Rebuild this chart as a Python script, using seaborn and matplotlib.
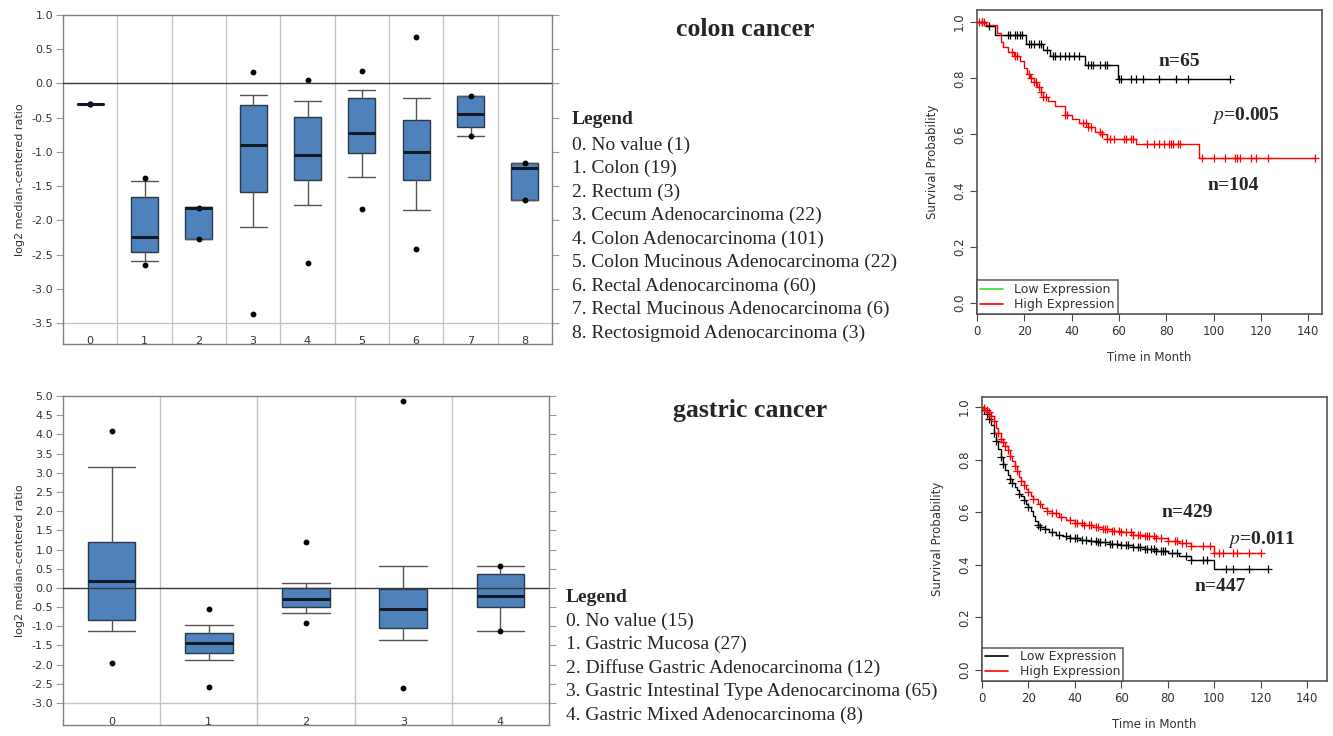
import numpy as np
import matplotlib.pyplot as plt
import seaborn as sns
from matplotlib.lines import Line2D

sns.set_theme(style="white")
plt.rcParams['font.family'] = ['DejaVu Sans']
plt.rcParams['axes.unicode_minus'] = False
plt.rcParams['mathtext.fontset'] = 'stix'

# ---- colon cancer box plot (Oncomine style summary stats) ----
colon_groups = ["0", "1", "2", "3", "4", "5", "6", "7", "8"]
colon_min = [-0.30, -2.66, -2.27, -3.37, -2.63, -1.83, -2.42, -0.77, -1.71]
colon_whislo = [-0.30, -2.60, -2.27, -2.10, -1.77, -1.37, -1.85, -0.77, -1.71]
colon_q1 = [-0.30, -2.47, -2.27, -1.58, -1.41, -1.02, -1.41, -0.63, -1.71]
colon_med = [-0.30, -2.24, -1.82, -0.90, -1.04, -0.73, -1.00, -0.44, -1.24]
colon_q3 = [-0.30, -1.66, -1.81, -0.32, -0.49, -0.21, -0.54, -0.18, -1.16]
colon_whishi = [-0.30, -1.43, -1.81, -0.17, -0.26, -0.10, -0.22, -0.18, -1.16]
colon_max = [-0.30, -1.38, -1.82, 0.16, 0.05, 0.18, 0.68, -0.18, -1.16]
colon_legend = ["0. No value (1)", "1. Colon (19)", "2. Rectum (3)",
                "3. Cecum Adenocarcinoma (22)", "4. Colon Adenocarcinoma (101)",
                "5. Colon Mucinous Adenocarcinoma (22)", "6. Rectal Adenocarcinoma (60)",
                "7. Rectal Mucinous Adenocarcinoma (6)", "8. Rectosigmoid Adenocarcinoma (3)"]

# ---- gastric cancer box plot ----
gastric_groups = ["0", "1", "2", "3", "4"]
gastric_min = [-1.95, -2.58, -0.91, -2.61, -1.12]
gastric_whislo = [-1.12, -1.87, -0.65, -1.35, -1.12]
gastric_q1 = [-0.84, -1.69, -0.49, -1.04, -0.49]
gastric_med = [0.17, -1.44, -0.29, -0.54, -0.21]
gastric_q3 = [1.19, -1.18, 0.00, -0.03, 0.35]
gastric_whishi = [3.16, -0.98, 0.14, 0.58, 0.58]
gastric_max = [4.08, -0.55, 1.19, 4.88, 0.58]
gastric_legend = ["0. No value (15)", "1. Gastric Mucosa (27)",
                  "2. Diffuse Gastric Adenocarcinoma (12)",
                  "3. Gastric Intestinal Type Adenocarcinoma (65)",
                  "4. Gastric Mixed Adenocarcinoma (8)"]

# ---- colon KM ----
colon_low_t = [0, 4, 7.5, 20.5, 28, 31, 45.5, 59.5]
colon_low_s = [1.0, 0.985, 0.955, 0.923, 0.90, 0.878, 0.849, 0.796]
colon_low_end = 107
colon_low_cens = [2, 5, 13, 14, 16, 17, 18, 19, 22, 23, 24, 26, 27, 29.5, 32, 33, 35, 37,
                  39, 41, 43, 47, 48, 49, 52, 54, 55, 60, 61, 65, 67, 70, 77, 84, 89, 107]
colon_high_t = [0, 4, 8.5, 10, 11, 13, 15.5, 18, 20, 21, 22.5, 24, 25.5, 27, 28, 30, 33,
                37, 40, 43, 47, 50, 53, 55, 67, 94]
colon_high_s = [1.0, 0.99, 0.96, 0.93, 0.91, 0.895, 0.88, 0.86, 0.835, 0.815, 0.80, 0.785,
                0.77, 0.75, 0.735, 0.72, 0.70, 0.67, 0.655, 0.64, 0.625, 0.61, 0.60, 0.585,
                0.565, 0.515]
colon_high_end = 143
colon_high_cens = [1, 2, 3, 15, 16, 17, 22, 23, 24, 25, 26, 27, 28, 29, 37, 38, 45, 46, 47,
                   48, 52, 53, 55, 56, 58, 62, 63, 65, 66, 72, 75, 77, 79, 81, 82, 83, 85,
                   86, 95, 100, 105, 109, 110, 111, 116, 118, 123, 143]

# ---- gastric KM ----
gastric_low_t = [0, 1, 2, 3, 4, 5, 6, 7, 8, 9, 10, 11, 12, 13, 14, 15, 16, 17, 18, 19, 20,
                 21, 22, 23, 24, 25, 27, 29, 32, 35, 38, 42, 46, 50, 55, 60, 65, 70, 75, 80,
                 85, 90, 100]
gastric_low_s = [1.0, 0.99, 0.975, 0.955, 0.93, 0.90, 0.87, 0.84, 0.81, 0.785, 0.76, 0.74,
                 0.725, 0.71, 0.695, 0.683, 0.67, 0.66, 0.645, 0.63, 0.62, 0.605, 0.585,
                 0.565, 0.553, 0.545, 0.535, 0.525, 0.515, 0.508, 0.502, 0.496, 0.49, 0.485,
                 0.48, 0.474, 0.468, 0.46, 0.452, 0.444, 0.432, 0.42, 0.385]
gastric_low_end = 123
gastric_low_cens = [1, 2, 3, 5, 6, 8, 9, 12, 13, 16, 18, 20, 24, 25, 27, 30, 33, 36, 38, 40,
                    41, 43, 45, 47, 49, 50, 51, 53, 55, 56, 58, 60, 62, 63, 65, 67, 68, 70,
                    71, 73, 74, 75, 77, 78, 79, 82, 84, 88, 90, 95, 97, 105, 108, 115, 123]
gastric_high_t = [0, 1, 2, 3, 4, 5, 6, 7, 8, 9, 10, 11, 12, 13, 14, 15, 16, 17, 18, 19, 20,
                  21, 22, 24, 26, 28, 30, 33, 36, 40, 44, 48, 52, 56, 60, 65, 70, 75, 80, 85,
                  90, 100]
gastric_high_s = [1.0, 0.995, 0.99, 0.98, 0.965, 0.945, 0.92, 0.90, 0.88, 0.865, 0.85, 0.835,
                  0.815, 0.795, 0.775, 0.755, 0.735, 0.72, 0.705, 0.69, 0.675, 0.662, 0.65,
                  0.632, 0.615, 0.605, 0.595, 0.582, 0.57, 0.56, 0.55, 0.543, 0.537, 0.53,
                  0.523, 0.515, 0.508, 0.502, 0.49, 0.483, 0.472, 0.443]
gastric_high_end = 120
gastric_high_cens = [1, 2, 3, 4, 5, 7, 8, 9, 10, 11, 12, 14, 15, 17, 18, 20, 22, 25, 28, 30,
                     32, 34, 38, 40, 41, 43, 44, 46, 47, 49, 50, 52, 53, 54, 56, 57, 59, 60,
                     62, 64, 65, 67, 68, 70, 71, 72, 74, 75, 77, 80, 83, 84, 86, 88, 90, 95,
                     98, 100, 102, 104, 108, 110, 115, 120]

BOX_BLUE = "#4f82bb"
SERIF = ['Liberation Serif', 'DejaVu Serif']


def draw_boxes(ax, groups, lo_pt, wlo, q1, med, q3, whi, hi_pt, width, ylim, band_y, yticks):
    stats = []
    for i in range(len(groups)):
        stats.append(dict(whislo=wlo[i], q1=q1[i], med=med[i], q3=q3[i], whishi=whi[i],
                          fliers=[lo_pt[i], hi_pt[i]]))
    ax.bxp(stats, positions=list(range(len(groups))), widths=width, capwidths=width,
           patch_artist=True,
           boxprops=dict(facecolor=BOX_BLUE, edgecolor="#2b3a4a", linewidth=1),
           medianprops=dict(color="#111a26", linewidth=2.2),
           whiskerprops=dict(color="#555555", linewidth=1),
           capprops=dict(color="#555555", linewidth=1),
           flierprops=dict(marker="o", markerfacecolor="black", markeredgecolor="black",
                           markersize=3.2))
    for i in range(len(groups) - 1):
        ax.axvline(i + 0.5, color="#c4c4c4", lw=1, zorder=0)
    ax.axhline(band_y, color="#c4c4c4", lw=1, zorder=0)
    ax.axhline(0, color="#3a3a3a", lw=1, zorder=5)
    ax.set_xlim(-0.5, len(groups) - 0.5)
    ax.set_ylim(*ylim)
    ax.set_yticks(yticks)
    ax.set_yticklabels([f"{v:.1f}" for v in yticks])
    ax.set_xticks(range(len(groups)))
    ax.set_xticklabels(groups)
    ax.tick_params(axis="y", left=True, right=True, direction="out", length=5, width=0.8,
                   color="#999999", labelsize=8, labelcolor="#333333", pad=2)
    ax.tick_params(axis="x", bottom=False, pad=-12, labelsize=8, labelcolor="#333333")
    for sp in ax.spines.values():
        sp.set_color("#808080")
        sp.set_linewidth(1)
    ax.set_ylabel("log2 median-centered ratio", fontsize=8, color="#333333", labelpad=5)


def step_value(t, s, x):
    idx = np.searchsorted(t, x, side="right") - 1
    return np.array(s)[idx]


def km_curve(ax, t, s, end, cens, color):
    tt = list(t) + [end]
    ss = list(s) + [s[-1]]
    sns.lineplot(x=tt, y=ss, ax=ax, color=color, drawstyle="steps-post", estimator=None,
                 sort=False, linewidth=1)
    sns.scatterplot(x=cens, y=step_value(t, s, cens), ax=ax, marker="+", s=36,
                    color=color, linewidth=0.9, zorder=3)


def km_axes(ax, xlim, ylim, low_color):
    ax.set_xlim(*xlim)
    ax.set_ylim(*ylim)
    ax.set_xticks(range(0, 141, 20))
    ax.set_yticks([0.0, 0.2, 0.4, 0.6, 0.8, 1.0])
    ax.set_yticklabels(["0.0", "0.2", "0.4", "0.6", "0.8", "1.0"], rotation=90, va="center")
    ax.tick_params(direction="out", length=5, width=0.8, color="#444444", labelsize=8.5,
                   labelcolor="#333333", left=True, bottom=True, pad=3)
    for sp in ax.spines.values():
        sp.set_color("#555555")
        sp.set_linewidth(1.2)
    ax.set_xlabel("Time in Month", fontsize=8.5, color="#333333", labelpad=9)
    ax.set_ylabel("Survival Probability", fontsize=8.5, color="#333333", labelpad=10)
    handles = [Line2D([], [], color=low_color, lw=1.2, label="Low Expression"),
               Line2D([], [], color="red", lw=1.2, label="High Expression")]
    leg = ax.legend(handles=handles, loc="lower left", borderaxespad=0, frameon=True,
                    fancybox=False, edgecolor="#444444", fontsize=9, handlelength=1.9,
                    handletextpad=0.9, labelspacing=0.2, borderpad=0.2)
    leg.get_frame().set_linewidth(1.2)
    for txt in leg.get_texts():
        txt.set_color("#333333")


W, H = 1333, 736
fig = plt.figure(figsize=(W / 100, H / 100), dpi=100)

# colon box plot
ax1 = fig.add_axes([63 / W, 1 - 344 / H, 489 / W, 329 / H])
draw_boxes(ax1, colon_groups, colon_min, colon_whislo, colon_q1, colon_med, colon_q3,
           colon_whishi, colon_max, 0.5, (-3.807, 1.0), -3.5, np.arange(-3.5, 1.01, 0.5))

# gastric box plot
ax2 = fig.add_axes([63 / W, 1 - 725 / H, 486 / W, 329 / H])
draw_boxes(ax2, gastric_groups, gastric_min, gastric_whislo, gastric_q1, gastric_med,
           gastric_q3, gastric_whishi, gastric_max, 0.49, (-3.573, 5.0), -3.0,
           np.arange(-3.0, 5.01, 0.5))

# colon KM
ax3 = fig.add_axes([977 / W, 1 - 314 / H, 345 / W, 304 / H])
km_curve(ax3, colon_low_t, colon_low_s, colon_low_end, colon_low_cens, "black")
km_curve(ax3, colon_high_t, colon_high_s, colon_high_end, colon_high_cens, "red")
km_axes(ax3, (0, 145.8), (-0.039, 1.043), "#33dd33")
ax3.text(85.4, 0.858, "n=65", fontsize=14, fontweight="bold", family=SERIF, ha="center", va="center")
ax3.text(113.4, 0.669, "$p$=0.005", fontsize=14, fontweight="bold", family=SERIF, ha="center", va="center")
ax3.text(108.3, 0.42, "n=104", fontsize=14, fontweight="bold", family=SERIF, ha="center", va="center")

# gastric KM
ax4 = fig.add_axes([982 / W, 1 - 681 / H, 345 / W, 284 / H])
km_curve(ax4, gastric_low_t, gastric_low_s, gastric_low_end, gastric_low_cens, "black")
km_curve(ax4, gastric_high_t, gastric_high_s, gastric_high_end, gastric_high_cens, "red")
km_axes(ax4, (0, 148.6), (-0.042, 1.038), "black")
ax4.text(88.3, 0.60, "n=429", fontsize=14, fontweight="bold", family=SERIF, ha="center", va="center")
ax4.text(120.6, 0.498, "$p$=0.011", fontsize=14, fontweight="bold", family=SERIF, ha="center", va="center")
ax4.text(102.5, 0.316, "n=447", fontsize=14, fontweight="bold", family=SERIF, ha="center", va="center")

# titles
fig.text(745 / W, 1 - 30 / H, "colon cancer", fontsize=18.5, fontweight="bold",
         family=SERIF, ha="center", va="center")
fig.text(750 / W, 1 - 410 / H, "gastric cancer", fontsize=18.5, fontweight="bold",
         family=SERIF, ha="center", va="center")

# legends as text blocks
fig.text(572 / W, 1 - 120 / H, "Legend", fontsize=14, fontweight="bold", family=SERIF, va="center")
for i, line in enumerate(colon_legend):
    fig.text(572 / W, 1 - (145 + 23.5 * i) / H, line, fontsize=14, family=SERIF, va="center")

fig.text(566 / W, 1 - 598 / H, "Legend", fontsize=14, fontweight="bold", family=SERIF, va="center")
for i, line in enumerate(gastric_legend):
    fig.text(566 / W, 1 - (621 + 23.5 * i) / H, line, fontsize=14, family=SERIF, va="center")

fig.savefig("out.png", dpi=100)
